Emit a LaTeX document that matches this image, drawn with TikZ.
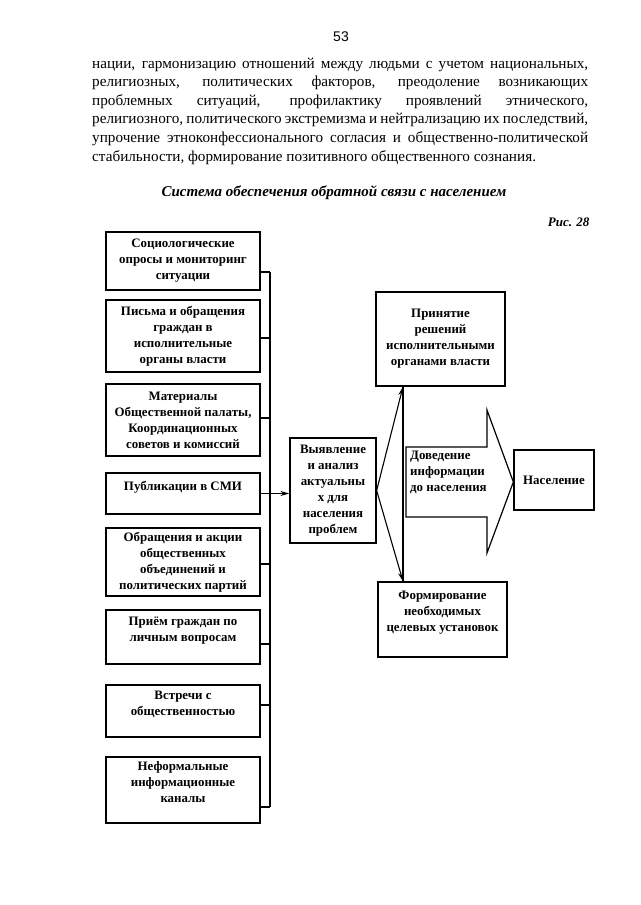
\documentclass[tikz,border=0pt]{standalone}
\usepackage{fontspec}
\setmainfont{Liberation Serif}
\newfontfamily\numfont{Liberation Sans}
\usetikzlibrary{arrows.meta,positioning,calc}
\tikzset{
  srcbox/.style={rectangle, draw=black, line width=1.3pt, align=center, minimum width=154pt, inner sep=2pt, font=\bfseries\fontsize{12.9}{16}\selectfont},
  mainbox/.style={rectangle, draw=black, line width=1.3pt, align=center, inner sep=2pt, font=\bfseries\fontsize{12.9}{16}\selectfont},
  flow/.style={-{Stealth[length=9pt,width=5pt]}, line width=1.1pt},
  link/.style={line width=1.2pt},
}

\begin{document}
\begin{tikzpicture}[x=1pt, y=-1pt]
  \fill[white] (0,0) rectangle (640,905);
  \useasboundingbox (0,0) rectangle (640,905);

  % page text
  \node[font=\numfont\fontsize{14}{16}\selectfont] (pnum) at (341,37) {53};
  \node[anchor=north west, inner sep=0pt, align=left, font=\fontsize{15.2}{18.6}\selectfont] (txt) at (92,57.5) {%
    \makebox[496pt][s]{нации, гармонизацию отношений между людьми с учетом национальных,}\\
    \makebox[496pt][s]{религиозных, политических факторов, преодоление возникающих}\\
    \makebox[496pt][s]{проблемных ситуаций, профилактику проявлений этнического,}\\
    \makebox[496pt][s]{религиозного, политического экстремизма и нейтрализацию их последствий,}\\
    \makebox[496pt][s]{упрочение этноконфессионального согласия и общественно-политической}\\
    стабильности, формирование позитивного общественного сознания.};
  \node[font=\bfseries\itshape\fontsize{15}{18}\selectfont] (title) at (334,193) {Система обеспечения обратной связи с населением};
  \node[anchor=east, font=\bfseries\itshape\fontsize{13}{16}\selectfont] (fig) at (593,222) {Рис. 28};

  % sources
  \node[srcbox, minimum height=58pt] (b1) at (183,261) {Социологические\\опросы и мониторинг\\ситуации};
  \node[srcbox, minimum height=72pt] (b2) at (183,336) {Письма и обращения\\граждан в\\исполнительные\\органы власти};
  \node[srcbox, minimum height=72pt] (b3) at (183,420) {Материалы\\Общественной палаты,\\Координационных\\советов и комиссий};
  \node[srcbox, minimum height=41pt] (b4) at (183,493.5) {Публикации в СМИ\\~};
  \node[srcbox, minimum height=68pt] (b5) at (183,562) {Обращения и акции\\общественных\\объединений и\\политических партий};
  \node[srcbox, minimum height=54pt] (b6) at (183,637) {Приём граждан по\\личным вопросам\\~};
  \node[srcbox, minimum height=52pt] (b7) at (183,711) {Встречи с\\общественностью\\~};
  \node[srcbox, minimum height=66pt] (b8) at (183,790) {Неформальные\\информационные\\каналы\\~};

  % bus
  \coordinate (bustop) at (270,272);
  \coordinate (busbot) at (270,807);
  \draw[link] (bustop) -- (busbot);
  \foreach \b/\y in {b1/272,b2/338,b3/418,b5/564,b6/644,b7/705,b8/807}
    \draw[link] (\b.east |- 0,\y) -- (bustop |- 0,\y);

  % analysis and results
  \node[mainbox, minimum width=86pt, minimum height=105pt] (vyy) at (333,490.5) {Выявление\\и анализ\\актуальны\\х для\\населения\\проблем};
  \node[mainbox, minimum width=129pt, minimum height=94pt] (prin) at (440.5,339) {Принятие\\решений\\исполнительными\\органами власти};
  \node[mainbox, minimum width=129pt, minimum height=75pt] (form) at (442.5,619.5) {Формирование\\необходимых\\целевых установок\\~};
  \node[mainbox, minimum width=80pt, minimum height=60pt] (nas) at (554,480) {Население};
  \draw[flow] (b4.east) -- (b4.east -| vyy.west);

  \coordinate (vline) at (403,0);
  \draw[flow] (vyy.east) -- (vline |- prin.south);
  \draw[flow] (vyy.east) -- (vline |- form.north);
  \draw[link] (vline |- prin.south) -- (vline |- form.north);

  % big arrow
  \draw[line width=1.2pt] (406,447) -- (487,447) -- (487,410) -- (nas.west |- 0,482) -- (487,553) -- (487,517) -- (406,517) -- cycle;
  \node[anchor=west, align=left, inner sep=0pt, font=\bfseries\fontsize{12.9}{16}\selectfont] (dov) at (410,472) {Доведение\\информации\\до населения};
\end{tikzpicture}
\end{document}
